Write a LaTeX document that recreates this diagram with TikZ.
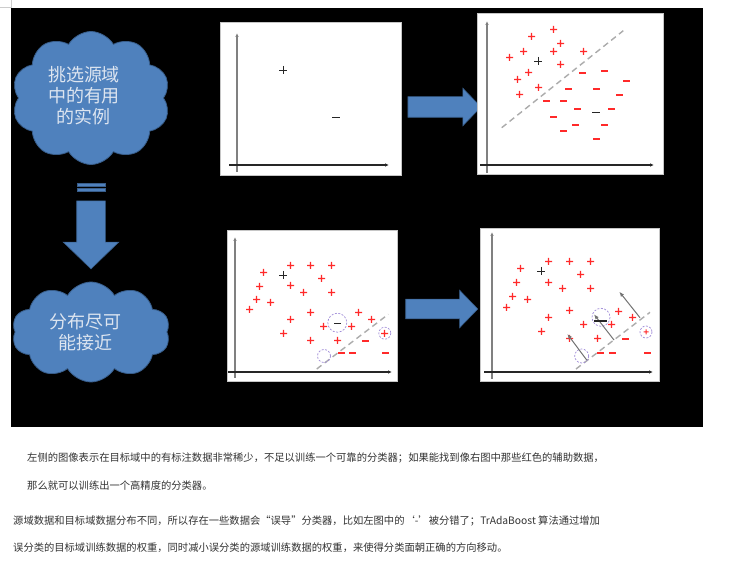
\documentclass[tikz,border=0pt]{standalone}
\usepackage{fontspec}
\newfontfamily\cjk{Noto Sans CJK SC}
\usetikzlibrary{shapes.symbols,shapes.arrows,arrows.meta,positioning}
\definecolor{pptblue}{HTML}{4F81BD}
\definecolor{pptbluedark}{HTML}{385D8A}
\definecolor{cloudtext}{HTML}{DDE5F0}
\definecolor{markred}{HTML}{FF2A2A}
\definecolor{ringpurple}{HTML}{A08CD8}

\begin{document}
\begin{tikzpicture}[x=1pt, y=-1pt,
    cloud_box/.style={cloud, cloud puffs=10, cloud puff arc=120, fill=pptblue, draw=pptbluedark, line width=0.8pt, inner sep=0pt},
    cloud_text/.style={align=center, text=cloudtext, font=\cjk\fontsize{18}{21}\selectfont},
    big_arrow/.style={single arrow, fill=pptblue, draw=pptbluedark, line width=0.6pt, inner sep=0pt, single arrow tip angle=92},
    panel/.style={draw=gray!45, fill=white, line width=0.6pt},
    axis_x/.style={-{Latex[length=4pt,width=3.5pt]}, line width=1.1pt, draw=black!85},
    axis_y/.style={-{Latex[length=4pt,width=3.5pt]}, line width=1.1pt, draw=black!50},
    sep_line/.style={dash pattern=on 6pt off 4pt, line width=1.4pt, draw=gray!65},
    ring/.style={dash pattern=on 2pt off 1.5pt, draw=ringpurple, line width=0.7pt},
    push/.style={-{Latex[length=5pt,width=4pt]}, line width=1pt, draw=black!55},
    red_mark/.style={fill=markred},
    black_mark/.style={draw=black!85, line width=1pt},
    note/.style={anchor=west, inner sep=0pt, text=black!80, font=\cjk\fontsize{10.3}{13}\selectfont}
]
    \useasboundingbox (0,0) rectangle (737,569);
    \fill[white] (0,0) rectangle (737,569);
    \draw[gray!40] (0,7) -- (11,7) -- (11,0);
    \fill[black] (11,8) rectangle (703,427);

    % Clouds and block arrows
    \node[cloud_box, minimum width=158pt, minimum height=133pt] (pick) at (91,98) {};
    \node[cloud_text] (pick_txt) at (84,96) {挑选源域\\中的有用\\的实例};
    \node[cloud_box, minimum width=158pt, minimum height=100pt] (close) at (91,332) {};
    \node[cloud_text] (close_txt) at (85,332) {分布尽可\\能接近};

    \filldraw[fill=pptblue, draw=pptbluedark, line width=0.5pt] (77,183) rectangle (105,186);
    \filldraw[fill=pptblue, draw=pptbluedark, line width=0.5pt] (77,188) rectangle (105,191);
    \node[big_arrow, rotate=-90, minimum height=68pt, minimum width=55pt, single arrow head extend=13.5pt] (down) at (91,228) {\rule{0pt}{28pt}};
    \node[big_arrow, minimum height=73pt, minimum width=37pt, single arrow head extend=8.5pt] (right_top) at (439.5,107) {\rule{0pt}{20pt}};
    \node[big_arrow, minimum height=72pt, minimum width=37pt, single arrow head extend=9pt] (right_bot) at (437,309) {\rule{0pt}{19pt}};

    % Panel 1
    \draw[panel] (220,22) rectangle (401,175);
    \draw[axis_y] (237,172) -- (237,33);
    \draw[axis_x] (229,165) -- (389,165);
    \draw[black_mark] (279,70.5) -- (287,70.5) (283.5,66) -- (283.5,74);
    \draw[black_mark] (332,117.5) -- (340,117.5);

    % Panel 2
    \draw[panel] (477,13) rectangle (663,174);
    \draw[axis_y] (487,173) -- (487,21);
    \draw[axis_x] (480,165) -- (654,165);
    \draw[sep_line] (501.7,127.7) -- (623.3,30.7);
    \foreach \x/\y in {553/29, 531/36, 560/43, 523/51, 553/51, 583/51, 509/57, 560/64, 528/72, 517/79, 538/87, 519/94}
        \fill[red_mark] (\x-3,\y) rectangle (\x+4,\y+1.2) (\x-0.1,\y-3) rectangle (\x+1.1,\y+4);
    \foreach \x/\y in {582/72, 604/70, 626/80, 568/88, 596/88, 619/94, 546/100, 563/100, 577/108, 611/108, 553/116, 575/124, 604/124, 563/130, 596/138}
        \fill[red_mark] (\x-3,\y) rectangle (\x+4,\y+2);
    \draw[black_mark] (534,61.5) -- (542,61.5) (538.5,57) -- (538.5,65);
    \draw[black_mark] (592,112.5) -- (600,112.5);

    % Panel 3
    \draw[panel] (227,230) rectangle (397,381);
    \draw[axis_y] (235,378) -- (235,237);
    \draw[axis_x] (228,372) -- (392,372);
    \draw[sep_line] (316.7,369) -- (388.3,314.3);
    \foreach \x/\y in {290/265, 310/265, 331/265, 263/272, 321/278, 259/286, 290/285, 303/292, 331/292, 256/299, 270/302, 249/309, 310/312, 358/312, 290/319, 323/326, 351/326, 371/319, 283/333, 310/340, 337/340, 384/333}
        \fill[red_mark] (\x-3,\y) rectangle (\x+4,\y+1.2) (\x-0.1,\y-3) rectangle (\x+1.1,\y+4);
    \foreach \x/\y in {365/340, 341/352, 352/352, 385/352}
        \fill[red_mark] (\x-3,\y) rectangle (\x+4,\y+2);
    \draw[black_mark] (279,275.5) -- (287,275.5) (283.5,271) -- (283.5,279);
    \draw[black_mark] (334,323.5) -- (341,323.5);
    \draw[ring] (337.3,322.7) circle (9.5);
    \draw[ring] (324,356) circle (6.5);
    \draw[ring] (384.8,333.2) circle (6);

    % Panel 4
    \draw[panel] (480,228) rectangle (659,381);
    \draw[axis_y] (492,379) -- (492,232);
    \draw[axis_x] (484,372) -- (653,372);
    \draw[sep_line] (576,369) -- (650,312.3);
    \foreach \x/\y in {548/261, 569/261, 590/261, 520/268, 580/274, 516/282, 548/282, 562/288, 590/288, 512/296, 527/299, 506/307, 569/310, 548/317, 618/311, 632/317, 583/324, 611/324, 541/331, 569/338, 597/338}
        \fill[red_mark] (\x-3,\y) rectangle (\x+4,\y+1.2) (\x-0.1,\y-3) rectangle (\x+1.1,\y+4);
    \fill[red_mark] (643.5,331.5) rectangle (648.5,332.5) (645.5,329.5) rectangle (646.5,334.5);
    \foreach \x/\y in {625/338, 600/352, 612/352, 647/352}
        \fill[red_mark] (\x-3,\y) rectangle (\x+4,\y+2);
    \draw[black_mark] (537,271.5) -- (545,271.5) (541.5,267) -- (541.5,275);
    \draw[ring] (601,317.3) circle (9);
    \draw[ring] (581.7,356) circle (7);
    \draw[ring] (646,332) circle (6);
    \draw[push] (586.7,360) -- (567.3,334);
    \draw[push] (614,340) -- (594,314.3);
    \draw[push] (640,317.7) -- (619.3,291.7);
    \draw[black_mark, line width=2pt] (594,321) -- (607,321);

    % Notes
    \node[note] (note1) at (27,458) {左侧的图像表示在目标域中的有标注数据非常稀少，不足以训练一个可靠的分类器；如果能找到像右图中那些红色的辅助数据，};
    \node[note] (note2) at (27,486) {那么就可以训练出一个高精度的分类器。};
    \node[note] (note3) at (13,521) {源域数据和目标域数据分布不同，所以存在一些数据会“误导”分类器，比如左图中的‘-’被分错了；TrAdaBoost 算法通过增加};
    \node[note] (note4) at (13,548) {误分类的目标域训练数据的权重，同时减小误分类的源域训练数据的权重，来使得分类面朝正确的方向移动。};
\end{tikzpicture}
\end{document}
